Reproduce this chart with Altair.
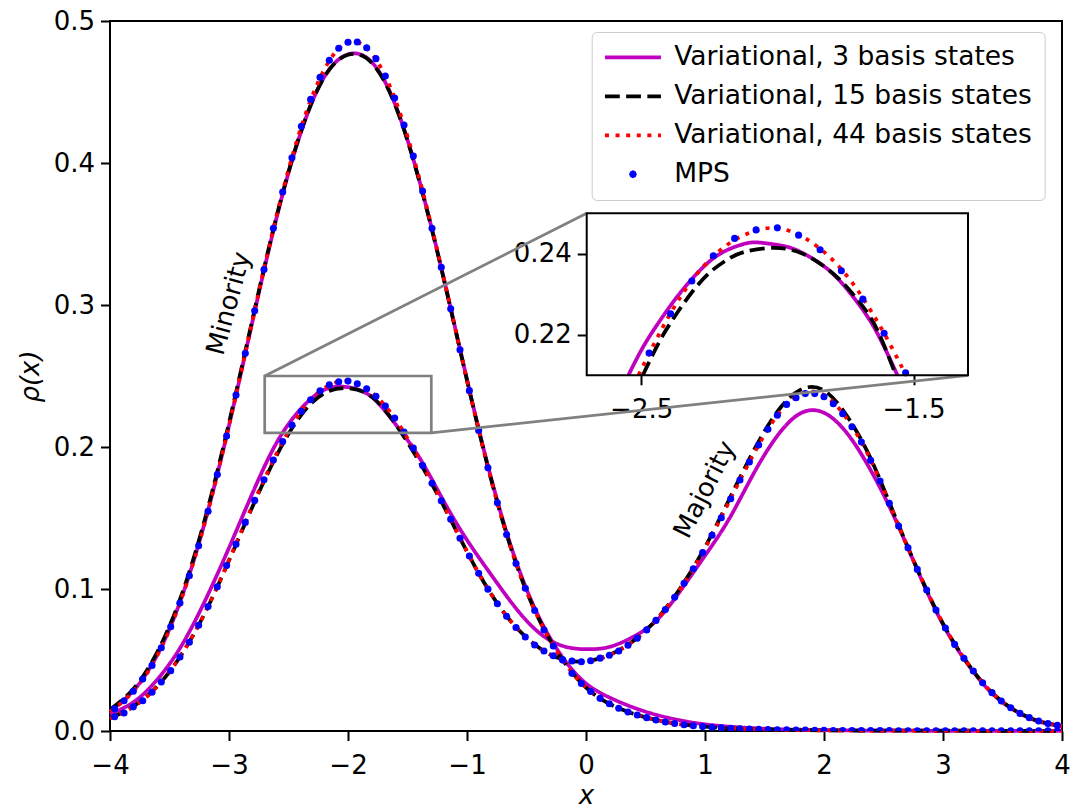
import altair as alt
import pandas as pd

# ---------------- data ----------------
SERIES = ["Variational, 3 basis states", "Variational, 15 basis states",
          "Variational, 44 basis states", "MPS"]
COLORS = ["#bf00bf", "#000000", "#ff0000", "#0000ff"]

X_LINE = [-4.0, -3.8, -3.6, -3.4, -3.2, -3.0, -2.8, -2.6, -2.4, -2.2, -2.0,
          -1.8, -1.6, -1.4, -1.2, -1.0, -0.8, -0.6, -0.4, -0.2, 0.0,
          0.2, 0.4, 0.6, 0.8, 1.0, 1.2, 1.4, 1.6, 1.8, 2.0,
          2.2, 2.4, 2.6, 2.8, 3.0, 3.2, 3.4, 3.6, 3.8, 4.0]

# minority density
MIN_3 = [0.0140, 0.0287, 0.0540, 0.0935, 0.1480, 0.2150, 0.2895, 0.3615, 0.4205, 0.4605, 0.4765,
         0.4710, 0.4405, 0.3875, 0.3205, 0.2475, 0.1790, 0.1225, 0.0810, 0.0523, 0.0335,
         0.0235, 0.0165, 0.0112, 0.0074, 0.0047, 0.0031, 0.0020, 0.0013, 0.0009, 0.0006,
         0.0004, 0.0003, 0.0002, 0.0002, 0.0001, 0.0001, 0.0001, 0.0001, 0.0001, 0.0001]
MIN_15 = [0.0150, 0.0300, 0.0560, 0.0955, 0.1500, 0.2170, 0.2910, 0.3625, 0.4210, 0.4605, 0.4762,
          0.4705, 0.4400, 0.3870, 0.3200, 0.2470, 0.1780, 0.1210, 0.0795, 0.0505, 0.0306,
          0.0190, 0.0121, 0.0076, 0.0047, 0.0030, 0.0019, 0.0013, 0.0009, 0.0006, 0.0005,
          0.0004, 0.0003, 0.0003, 0.0002, 0.0002, 0.0002, 0.0001, 0.0001, 0.0001, 0.0001]
MIN_44 = [0.0135, 0.0283, 0.0536, 0.0930, 0.1475, 0.2150, 0.2900, 0.3630, 0.4236, 0.4657, 0.4850,
          0.4770, 0.4439, 0.3890, 0.3207, 0.2469, 0.1780, 0.1210, 0.0794, 0.0505, 0.0306,
          0.0190, 0.0121, 0.0076, 0.0047, 0.0030, 0.0019, 0.0013, 0.0009, 0.0006, 0.0005,
          0.0004, 0.0003, 0.0003, 0.0002, 0.0002, 0.0002, 0.0001, 0.0001, 0.0001, 0.0001]

# majority density
MAJ_3 = [0.0120, 0.0205, 0.0365, 0.0600, 0.0920, 0.1290, 0.1680, 0.2030, 0.2265, 0.2403, 0.2421,
         0.2352, 0.2160, 0.1925, 0.1625, 0.1345, 0.1104, 0.0876, 0.0696, 0.0600, 0.0576,
         0.0593, 0.0665, 0.0785, 0.0995, 0.1235, 0.1490, 0.1800, 0.2070, 0.2236, 0.2241,
         0.2090, 0.1825, 0.1490, 0.1105, 0.0750, 0.0480, 0.0275, 0.0145, 0.0068, 0.0033]
MAJ_15 = [0.0090, 0.0175, 0.0318, 0.0537, 0.0835, 0.1200, 0.1585, 0.1940, 0.2218, 0.2378, 0.2414,
          0.2353, 0.2160, 0.1895, 0.1590, 0.1262, 0.0968, 0.0742, 0.0590, 0.0505, 0.0492,
          0.0537, 0.0636, 0.0793, 0.1016, 0.1295, 0.1625, 0.1960, 0.2240, 0.2402, 0.2398,
          0.2210, 0.1905, 0.1505, 0.1110, 0.0757, 0.0485, 0.0280, 0.0148, 0.0071, 0.0035]
MAJ_44 = [0.0087, 0.0172, 0.0316, 0.0537, 0.0837, 0.1204, 0.1593, 0.1954, 0.2243, 0.2414, 0.2464,
          0.2384, 0.2194, 0.1913, 0.1596, 0.1264, 0.0968, 0.0741, 0.0589, 0.0503, 0.0490,
          0.0535, 0.0634, 0.0790, 0.1011, 0.1287, 0.1610, 0.1936, 0.2213, 0.2372, 0.2366,
          0.2190, 0.1895, 0.1500, 0.1109, 0.0757, 0.0485, 0.0280, 0.0148, 0.0071, 0.0035]

# MPS grid points
X_MPS = [-3.961, -3.882, -3.804, -3.725, -3.647, -3.569, -3.490, -3.412, -3.333, -3.255,
         -3.176, -3.098, -3.020, -2.941, -2.863, -2.784, -2.706, -2.627, -2.549, -2.471,
         -2.392, -2.314, -2.235, -2.157, -2.078, -2.000, -1.922, -1.843, -1.765, -1.686,
         -1.608, -1.529, -1.451, -1.373, -1.294, -1.216, -1.137, -1.059, -0.980, -0.902,
         -0.824, -0.745, -0.667, -0.588, -0.510, -0.431, -0.353, -0.275, -0.196, -0.118,
         -0.039, 0.039, 0.118, 0.196, 0.275, 0.353, 0.431, 0.510, 0.588, 0.667,
         0.745, 0.824, 0.902, 0.980, 1.059, 1.137, 1.216, 1.294, 1.373, 1.451,
         1.529, 1.608, 1.686, 1.765, 1.843, 1.922, 2.000, 2.078, 2.157, 2.235,
         2.314, 2.392, 2.471, 2.549, 2.627, 2.706, 2.784, 2.863, 2.941, 3.020,
         3.098, 3.176, 3.255, 3.333, 3.412, 3.490, 3.569, 3.647, 3.725, 3.804,
         3.882, 3.961]
MIN_MPS = [0.0156, 0.0213, 0.0280, 0.0366, 0.0462, 0.0586, 0.0734, 0.0902, 0.1093, 0.1304,
           0.1548, 0.1806, 0.2077, 0.2366, 0.2660, 0.2960, 0.3250, 0.3540, 0.3796, 0.4037,
           0.4258, 0.4448, 0.4603, 0.4723, 0.4808, 0.4850, 0.4852, 0.4812, 0.4735, 0.4613,
           0.4458, 0.4268, 0.4049, 0.3803, 0.3540, 0.3266, 0.2974, 0.2684, 0.2397, 0.2117,
           0.1854, 0.1608, 0.1383, 0.1180, 0.1005, 0.0849, 0.0711, 0.0599, 0.0500, 0.0406,
           0.0335, 0.0278, 0.0230, 0.0192, 0.0160, 0.0134, 0.0113, 0.0094, 0.0078, 0.0064,
           0.0053, 0.0044, 0.0037, 0.0031, 0.0026, 0.0022, 0.0019, 0.0016, 0.0014, 0.0012,
           0.0010, 0.0009, 0.0008, 0.0007, 0.0006, 0.0005, 0.0005, 0.0004, 0.0004, 0.0004,
           0.0003, 0.0003, 0.0003, 0.0003, 0.0002, 0.0002, 0.0002, 0.0002, 0.0002, 0.0002,
           0.0001, 0.0001, 0.0001, 0.0001, 0.0001, 0.0001, 0.0001, 0.0001, 0.0001, 0.0001,
           0.0001, 0.0001]
MAJ_MPS = [0.0100, 0.0127, 0.0170, 0.0213, 0.0273, 0.0345, 0.0425, 0.0521, 0.0625, 0.0745,
           0.0876, 0.1015, 0.1166, 0.1316, 0.1469, 0.1624, 0.1769, 0.1908, 0.2039, 0.2155,
           0.2252, 0.2333, 0.2395, 0.2438, 0.2459, 0.2464, 0.2446, 0.2410, 0.2358, 0.2288,
           0.2204, 0.2106, 0.1993, 0.1870, 0.1745, 0.1622, 0.1492, 0.1358, 0.1233, 0.1111,
           0.0999, 0.0896, 0.0808, 0.0729, 0.0662, 0.0606, 0.0563, 0.0530, 0.0502, 0.0493,
           0.0488, 0.0495, 0.0513, 0.0533, 0.0563, 0.0604, 0.0654, 0.0712, 0.0779, 0.0855,
           0.0942, 0.1040, 0.1143, 0.1256, 0.1378, 0.1502, 0.1636, 0.1768, 0.1894, 0.2014,
           0.2125, 0.2223, 0.2300, 0.2347, 0.2376, 0.2376, 0.2354, 0.2305, 0.2235, 0.2143,
           0.2035, 0.1906, 0.1761, 0.1603, 0.1444, 0.1291, 0.1138, 0.0993, 0.0852, 0.0725,
           0.0610, 0.0512, 0.0423, 0.0340, 0.0270, 0.0211, 0.0164, 0.0124, 0.0094, 0.0070,
           0.0052, 0.0041]

# inset (zoom of left majority peak)
INSET_XLIM = [-2.7, -1.3]
INSET_YLIM = [0.21, 0.25]
INSET_X_3 = [-2.547, -2.492, -2.430, -2.369, -2.308, -2.246, -2.185, -2.124, -2.074,
             -2.001, -1.940, -1.878, -1.817, -1.756, -1.694, -1.633, -1.559]
INSET_Y_3 = [0.2100, 0.2171, 0.2236, 0.2293, 0.2342, 0.2383, 0.2409, 0.2424, 0.2428,
             0.2422, 0.2412, 0.2391, 0.2363, 0.2322, 0.2269, 0.2204, 0.2100]
INSET_X_15 = [-2.494, -2.430, -2.369, -2.308, -2.246, -2.185, -2.124, -2.038,
              -1.965, -1.891, -1.817, -1.756, -1.694, -1.633, -1.565]
INSET_Y_15 = [0.2100, 0.2187, 0.2253, 0.2310, 0.2355, 0.2385, 0.2404, 0.2414,
              0.2412, 0.2395, 0.2363, 0.2326, 0.2277, 0.2212, 0.2100]
INSET_X_44 = [-2.510, -2.450, -2.400, -2.350, -2.300, -2.250, -2.200, -2.150, -2.100, -2.050,
              -2.000, -1.950, -1.900, -1.850, -1.800, -1.750, -1.700, -1.650, -1.600, -1.550, -1.528]
INSET_Y_44 = [0.2100, 0.2181, 0.2244, 0.2299, 0.2346, 0.2384, 0.2414, 0.2437, 0.2452, 0.2462,
              0.2463, 0.2455, 0.2439, 0.2416, 0.2387, 0.2350, 0.2305, 0.2252, 0.2194, 0.2130, 0.2100]

# annotations
LABELS = ["Minority", "Majority"]
LABEL_X = [-3.0, 1.0]
LABEL_Y = [0.301, 0.170]
LABEL_ANGLE = [285, 297]

# ---------------- layout ----------------
W, H = 952, 710
XDOM = [-4, 4]
YDOM = [0, 0.5]
INSET_BOX_X = [0.006, 3.21]      # inset placement in main data coords
INSET_BOX_Y = [0.2505, 0.3646]
FONT = "DejaVu Sans"
FS = 26
LW = 3.75


def px(v):
    return (v - XDOM[0]) / (XDOM[1] - XDOM[0]) * W


def py(v):
    return (YDOM[1] - v) / (YDOM[1] - YDOM[0]) * H


# ---------------- tables ----------------
def line_df(mn, mj):
    return pd.concat([
        pd.DataFrame({"x": X_LINE, "y": mn, "curve": "minority"}),
        pd.DataFrame({"x": X_LINE, "y": mj, "curve": "majority"}),
    ])


mps_df = pd.concat([
    pd.DataFrame({"x": X_MPS, "y": MIN_MPS, "curve": "minority"}),
    pd.DataFrame({"x": X_MPS, "y": MAJ_MPS, "curve": "majority"}),
])
inset_mps = mps_df[(mps_df.x >= INSET_XLIM[0]) & (mps_df.x <= INSET_XLIM[1]) &
                   (mps_df.y >= INSET_YLIM[0] - 0.0005) & (mps_df.y <= INSET_YLIM[1])]

xaxis = alt.Axis(values=[-4, -3, -2, -1, 0, 1, 2, 3, 4], format="d", title="x",
                 titleFontStyle="italic", titleX=W / 2, titleY=72, titleBaseline="alphabetic",
                 labelPadding=12, labelFlush=False)
yaxis = alt.Axis(values=[0, 0.1, 0.2, 0.3, 0.4, 0.5], format=".1f", title="ρ(x)",
                 titleFontStyle="italic", titleX=-80, titleY=H / 2, titleAngle=270,
                 titleBaseline="middle", titleAlign="center", labelPadding=6, labelFlush=False)
XM = alt.X("x:Q", scale=alt.Scale(domain=XDOM, nice=False, zero=False), axis=xaxis)
YM = alt.Y("y:Q", scale=alt.Scale(domain=YDOM, nice=False, zero=False), axis=yaxis)

DASHES = [[1, 0], [14.8, 6.4], [4, 6.6]]
main_lines = []
for name, col, dash, mn, mj in zip(SERIES[:3], COLORS[:3], DASHES,
                                   [MIN_3, MIN_15, MIN_44], [MAJ_3, MAJ_15, MAJ_44]):
    main_lines.append(
        alt.Chart(line_df(mn, mj)).mark_line(color=col, strokeWidth=LW, strokeDash=dash,
                                              interpolate="natural", strokeCap="butt")
        .encode(x=XM, y=YM, detail="curve:N")
    )

main_pts = alt.Chart(mps_df).mark_circle(color=COLORS[3], size=50, opacity=1, clip=True).encode(
    x=XM, y=YM)

rect_df = pd.DataFrame({"x": [INSET_XLIM[0]], "x2": [INSET_XLIM[1]],
                        "y": [INSET_YLIM[0]], "y2": [INSET_YLIM[1]]})
zoom_rect = alt.Chart(rect_df).mark_rect(fillOpacity=0, stroke="#808080", strokeWidth=2.7).encode(
    x=XM, x2="x2:Q", y=YM, y2="y2:Q")

conn_df = pd.DataFrame({
    "x": [INSET_XLIM[0], INSET_XLIM[1]], "y": [INSET_YLIM[1], INSET_YLIM[0]],
    "x2": [INSET_BOX_X[0], INSET_BOX_X[1]], "y2": [INSET_BOX_Y[1], INSET_BOX_Y[0]],
})
connectors = alt.Chart(conn_df).mark_rule(color="#808080", strokeWidth=2.7).encode(
    x=XM, y=YM, x2="x2:Q", y2="y2:Q")

texts = []
for t, tx, ty, ang in zip(LABELS, LABEL_X, LABEL_Y, LABEL_ANGLE):
    texts.append(
        alt.Chart(pd.DataFrame({"x": [tx], "y": [ty], "t": [t]}))
        .mark_text(font=FONT, fontSize=FS, angle=ang, align="center", baseline="middle", color="black")
        .encode(x=XM, y=YM, text="t:N")
    )

# legend driven by an off-canvas dummy layer
SYM = 484  # 22px symbol box, 11 px per path unit
SHAPES = [
    "M-2.545,0L2.545,0",
    "M-2.545,0H-1.2M-0.618,0H0.727M1.309,0H2.545",
    "M-2.545,0H-2.181M-1.581,0H-1.217M-0.617,0H-0.253M0.347,0H0.711M1.311,0H1.675M2.275,0H2.545",
    "M0.17,0L0.12,0.12L0,0.17L-0.12,0.12L-0.17,0L-0.12,-0.12L0,-0.17L0.12,-0.12Z",
]
LEG = alt.Legend(title=None, orient="none", legendX=481.7, legendY=11,
                 symbolSize=SYM, symbolStrokeWidth=LW, symbolOffset=16, labelOffset=28,
                 labelFont=FONT, labelFontSize=26.5, labelColor="black", labelLimit=0,
                 padding=12, rowPadding=12, strokeColor="#cccccc",
                 fillColor="rgba(255,255,255,0.8)", cornerRadius=5)
legend_df = pd.DataFrame({"series": SERIES, "x": [XDOM[0] - 10] * 4, "y": [YDOM[0] - 1] * 4})
legend_layer = alt.Chart(legend_df).mark_point(clip=True, filled=False, strokeWidth=LW,
                                                size=SYM, opacity=1).encode(
    x=XM, y=YM,
    color=alt.Color("series:N", scale=alt.Scale(domain=SERIES, range=COLORS), legend=LEG),
    shape=alt.Shape("series:N", scale=alt.Scale(domain=SERIES, range=SHAPES), legend=LEG),
)

main = alt.layer(*main_lines, main_pts, zoom_rect, connectors, *texts, legend_layer)

# ---------------- inset ----------------
ixaxis = alt.Axis(values=[-2.5, -1.5], format=".1f", title=None, orient="bottom",
                  offset=-(H - py(INSET_BOX_Y[0])), labelPadding=12, labelFlush=False)
iyaxis = alt.Axis(values=[0.22, 0.24], format=".2f", title=None, orient="left",
                  offset=-px(INSET_BOX_X[0]), labelPadding=6, labelFlush=False)
XI = alt.X("x:Q", scale=alt.Scale(domain=INSET_XLIM, range=[px(INSET_BOX_X[0]), px(INSET_BOX_X[1])],
                                  nice=False, zero=False), axis=ixaxis)
YI = alt.Y("y:Q", scale=alt.Scale(domain=INSET_YLIM, range=[py(INSET_BOX_Y[0]), py(INSET_BOX_Y[1])],
                                  nice=False, zero=False), axis=iyaxis)

inset_bg = alt.Chart(rect_df).mark_rect(fill="white", strokeWidth=0).encode(
    x=XI, x2="x2:Q", y=YI, y2="y2:Q")
inset_lines = []
for col, dash, xs, ys in zip(COLORS[:3], DASHES, [INSET_X_3, INSET_X_15, INSET_X_44],
                             [INSET_Y_3, INSET_Y_15, INSET_Y_44]):
    inset_lines.append(
        alt.Chart(pd.DataFrame({"x": xs, "y": ys})).mark_line(
            color=col, strokeWidth=LW, strokeDash=dash, interpolate="natural", strokeCap="butt")
        .encode(x=XI, y=YI)
    )
inset_pts = alt.Chart(inset_mps).mark_circle(color=COLORS[3], size=50, opacity=1).encode(x=XI, y=YI)
inset_frame = alt.Chart(rect_df).mark_rect(fillOpacity=0, stroke="black", strokeWidth=2).encode(
    x=XI, x2="x2:Q", y=YI, y2="y2:Q")

inset = alt.layer(inset_bg, *inset_lines, inset_pts, inset_frame)

chart = (
    alt.layer(main, inset)
    .resolve_scale(x="independent", y="independent")
    .properties(width=W, height=H, autosize=alt.AutoSizeParams(type="none"),
                padding={"left": 102, "top": 13, "right": 8, "bottom": 77})
    .configure_view(stroke="black", strokeWidth=2)
    .configure_axis(labelFont=FONT, labelFontSize=FS, labelColor="black", tickColor="black",
                    tickWidth=2, tickSize=9.5, domain=False, grid=False,
                    titleFont=FONT, titleFontSize=FS, titleColor="black", titleFontWeight="normal")
)

chart.save("out.html", embed_options={"renderer": "svg", "actions": False})
